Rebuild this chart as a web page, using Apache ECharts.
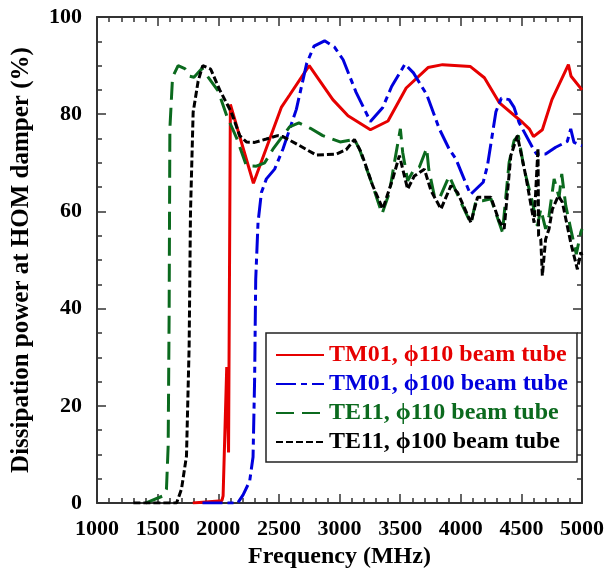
<!DOCTYPE html>
<html>
<head>
<meta charset="utf-8">
<script src="https://cdn.jsdelivr.net/npm/echarts@6/dist/echarts.min.js"></script>
<style>
html,body{margin:0;padding:0;background:#fff;}
#chart{width:607px;height:574px;}
</style>
</head>
<body>
<div id="chart"></div>
<script>
// Frequency (MHz) / Dissipation power (%) pairs
var tm01_110 = [[1790,0],[2030,0.5],[2040,1.5],[2070,28],[2085,10.4],[2100,82],[2290,65.8],[2520,81.4],[2590,84],[2750,90],[2945,83],[3070,79.7],[3255,76.8],[3400,78.6],[3550,85.4],[3730,89.6],[3850,90.2],[4080,89.8],[4195,87.5],[4317,82.4],[4510,78.3],[4565,77],[4600,75.4],[4673,76.8],[4752,83],[4888,90.2],[4910,87.8],[5000,85]];
var tm01_100 = [[1870,0],[2160,0],[2205,1.7],[2259,4.5],[2287,9.5],[2300,25.5],[2309,46],[2328,57.7],[2356,63.9],[2397,66.7],[2465,68.7],[2533,72.8],[2644,81],[2730,90.5],[2790,94],[2877,95.1],[2959,93.8],[3030,91.2],[3137,84.5],[3255,78.5],[3357,81.4],[3430,85.7],[3540,90.3],[3610,88.5],[3720,84],[3823,77],[3905,72.8],[3960,70.8],[4080,63.5],[4185,66],[4220,69.4],[4290,80.5],[4335,83.3],[4399,83],[4440,81.4],[4481,78.3],[4591,73.2],[4625,71.8],[4700,71.8],[4783,73.2],[4879,74.4],[4907,77],[4934,74.2],[5000,73.5]];
var te11_110 = [[1400,0],[1546,1.5],[1573,2.9],[1587,11.8],[1595,39.2],[1601,77],[1623,87.6],[1669,90],[1724,89.4],[1765,87.8],[1800,87.6],[1865,89.4],[1999,84.8],[2070,79.7],[2150,75.2],[2232,69.4],[2314,69.3],[2383,70],[2451,72.8],[2588,77.4],[2665,78.2],[2760,77.1],[2862,75.6],[3005,74.3],[3123,74.8],[3165,72.8],[3274,65.3],[3351,59.5],[3412,63.9],[3453,70.1],[3502,77],[3521,72.2],[3562,66.3],[3617,68.7],[3658,69.1],[3719,73],[3736,68.7],[3782,63.2],[3823,62.6],[3905,67.3],[4001,61.9],[4084,57.5],[4125,62.2],[4180,62.2],[4249,62.6],[4344,55.7],[4399,70.1],[4440,74.6],[4475,75.6],[4523,68.7],[4591,61.9],[4632,57],[4660,60.5],[4700,56.4],[4728,59.1],[4770,66.7],[4811,62.9],[4833,67.7],[4866,61.2],[4907,56.4],[4953,51.2],[4990,55.7],[5000,56.4]];
var te11_100 = [[1300,0],[1656,0],[1697,2.9],[1738,9.7],[1760,32.4],[1771,59.8],[1793,80.4],[1834,86.8],[1872,90],[1937,89.3],[2012,85],[2108,80.4],[2177,75.6],[2232,74.3],[2300,74.2],[2397,74.9],[2490,75.6],[2533,75.4],[2660,73.7],[2808,71.6],[2973,71.8],[3055,72.7],[3123,74.8],[3178,72.2],[3274,65.3],[3357,60.5],[3439,66.7],[3494,71.5],[3562,64.6],[3617,67.3],[3700,68.7],[3754,64.3],[3837,60.5],[3919,65.3],[3974,63.9],[4084,57.7],[4138,62.9],[4249,62.9],[4317,58],[4358,56.4],[4413,71.5],[4467,75.6],[4536,67.3],[4605,57.7],[4637,73],[4642,55],[4660,54.3],[4673,46.8],[4700,54.3],[4728,56.4],[4756,60.5],[4805,63.2],[4838,61.9],[4907,53.6],[4962,48.1],[4990,51.6],[5000,51]];

var seriesNames = ['TM01, \u03d5110 beam tube','TM01, \u03d5100 beam tube','TE11, \u03d5110 beam tube','TE11, \u03d5100 beam tube'];
var xMin = 1000, xMax = 5000, xStep = 500;
var yMin = 0, yMax = 100, yStep = 20;

var FONT = '"Liberation Serif", "Times New Roman", serif';
var AX = '#333';
var colors = ['#e60000','#0000dd','#0b6a1e','#000000'];

var chart = echarts.init(document.getElementById('chart'), null, {renderer:'canvas'});

function axisCommon(showLabel){
  return {
    axisLine:{show:true,onZero:false,lineStyle:{color:AX,width:2}},
    axisTick:{show:true,inside:true,length:9,lineStyle:{color:AX,width:1.5}},
    minorTick:{show:true,length:5,lineStyle:{color:AX,width:1.5}},
    splitLine:{show:false},
    axisLabel:{show:showLabel,fontFamily:FONT,fontWeight:'bold',fontSize:22,color:'#000',margin:15,
      formatter:function(v){return String(v);}}
  };
}

var xa0 = Object.assign(axisCommon(true),{type:'value',position:'bottom',min:xMin,max:xMax,interval:xStep,
  name:'Frequency (MHz)',nameLocation:'middle',nameGap:41,
  nameTextStyle:{fontFamily:FONT,fontWeight:'bold',fontSize:24,color:'#000'}});
xa0.minorTick.splitNumber = 5;
var xa1 = Object.assign(axisCommon(false),{type:'value',position:'top',min:xMin,max:xMax,interval:xStep});
xa1.minorTick.splitNumber = 5;
var ya0 = Object.assign(axisCommon(true),{type:'value',position:'left',min:yMin,max:yMax,interval:yStep,
  name:'Dissipation power at HOM damper (%)',nameLocation:'middle',nameGap:63,
  nameTextStyle:{fontFamily:FONT,fontWeight:'bold',fontSize:25,color:'#000'}});
ya0.minorTick.splitNumber = 4;
var ya1 = Object.assign(axisCommon(false),{type:'value',position:'right',min:yMin,max:yMax,interval:yStep});
ya1.minorTick.splitNumber = 4;

var dashes = [null,[20,5,6,5],[18,8],[7,3]];
var datas = [tm01_110, tm01_100, te11_110, te11_100];
var series = datas.map(function(d,i){
  return {
    name:seriesNames[i], type:'line', data:d, xAxisIndex:0, yAxisIndex:0,
    symbol:'none', showSymbol:false, smooth:false, z: 2+i,
    lineStyle:{color:colors[i],width:3,type: dashes[i] ? dashes[i] : 'solid'},
    itemStyle:{color:colors[i]}
  };
});

chart.setOption({
  animation:false,
  backgroundColor:'#fff',
  grid:{left:97,right:24,top:17,bottom:70,containLabel:false},
  xAxis:[xa0,xa1],
  yAxis:[ya0,ya1],
  legend:{
    show:true, orient:'vertical', left:266, top:333,
    itemWidth:48, itemHeight:14, itemGap:5,
    padding:[10,9,8,9],
    borderColor:'#222', borderWidth:1.5, backgroundColor:'#fff',
    selectedMode:false, align:'left',
    itemStyle:{opacity:0,color:'transparent',borderWidth:0},
    textStyle:{fontFamily:FONT,fontWeight:'bold',fontSize:24},
    data: seriesNames.map(function(n,i){return {name:n,textStyle:{color:colors[i]},itemStyle:{opacity:0,color:'transparent',borderWidth:0}};})
  },
  series:series
});
</script>
</body>
</html>
